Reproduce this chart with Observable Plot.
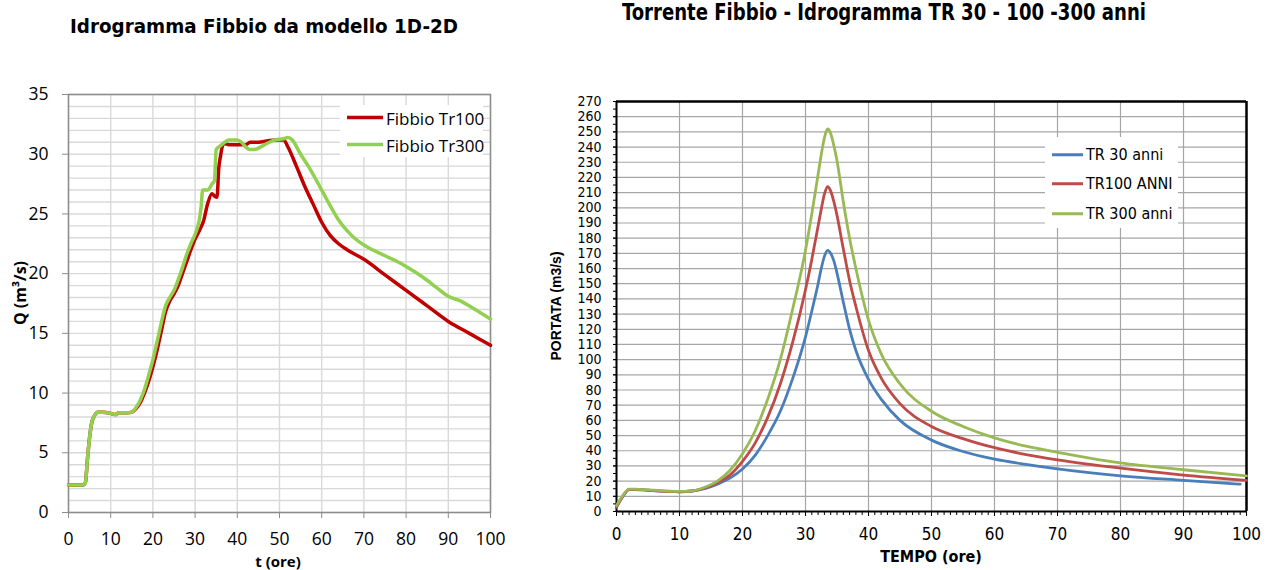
<!DOCTYPE html>
<html><head><meta charset="utf-8">
<script src="https://cdn.jsdelivr.net/npm/d3@7"></script>
<script src="https://cdn.jsdelivr.net/npm/@observablehq/plot@0.6"></script>
<style>
body{margin:0;background:#fff;}
#wrap{position:relative;width:1269px;height:570px;overflow:hidden;background:#fff;}
.abs{position:absolute;white-space:nowrap;}
.title{font-family:'Liberation Sans Narrow','DejaVu Sans Condensed',sans-serif;font-weight:bold;transform-origin:0 0;}
</style></head><body><div id="wrap"></div>
<script>
// ---------- LEFT CHART DATA : Idrogramma Fibbio da modello 1D-2D ----------
const leftXTicks = [0,10,20,30,40,50,60,70,80,90,100];
const leftYTicks = [0,5,10,15,20,25,30,35];
const leftYGrid = d3.range(0, 36, 1);
const leftSeriesNames = ["Fibbio Tr100", "Fibbio Tr300"];
// [t (ore), Q (m3/s)]
const fibbioTr100 = [[0,2.3],[3.5,2.3],[4,2.5],[4.5,4.5],[5,6.3],[5.5,7.5],[6,8.0],[7,8.4],[8,8.4],[10,8.3],[11,8.2],[12,8.35],[14,8.35],[15,8.4],[16,8.7],[17,9.2],[18,10.0],[19,11.0],[20,12.2],[21,13.6],[22,15.2],[23,16.8],[24,17.7],[25,18.3],[26,19.0],[27,20.0],[28,21.0],[29,22.0],[30,22.9],[31,23.6],[32,24.4],[33,25.9],[34,26.7],[34.6,26.5],[35.2,26.4],[35.6,28.8],[36,29.8],[36.6,30.8],[37,30.9],[38,30.8],[40,30.8],[42,30.8],[43,31.0],[45,31.0],[47,31.1],[49,31.2],[51,31.2],[52,30.6],[54,29.0],[56,27.3],[58,25.8],[60,24.3],[62,23.2],[64,22.5],[66,22.0],[70,21.2],[75,19.9],[80,18.6],[85,17.3],[90,16.0],[95,15.0],[100,14.0]];
const fibbioTr300 = [[0,2.3],[3.5,2.3],[4,2.5],[4.5,4.5],[5,6.3],[5.5,7.5],[6,8.0],[7,8.4],[8,8.4],[10,8.3],[11,8.2],[12,8.35],[14,8.35],[15,8.4],[16,8.8],[17,9.4],[18,10.3],[19,11.5],[20,12.8],[21,14.3],[22,15.9],[23,17.3],[24,18.0],[25,18.6],[26,19.5],[27,20.5],[28,21.6],[29,22.5],[30,23.3],[31,24.5],[31.4,25.5],[31.8,27.0],[33,27.0],[34,27.5],[34.6,27.8],[35,30.4],[36,30.7],[37,31.0],[38,31.2],[40,31.2],[41,31.0],[42,30.6],[43,30.4],[44,30.4],[45,30.5],[47,30.9],[49,31.2],[51,31.3],[52,31.4],[53,31.2],[55,30.0],[57,28.9],[60,27.0],[62,25.7],[64,24.5],[66,23.6],[68,22.9],[70,22.4],[75,21.5],[78,21.0],[80,20.6],[84,19.7],[87,18.9],[90,18.1],[93,17.7],[95,17.3],[100,16.2]];

// ---------- RIGHT CHART DATA : Torrente Fibbio - Idrogramma TR 30 - 100 - 300 anni ----------
const rightXTicks = [0,10,20,30,40,50,60,70,80,90,100];
const rightXMinor = d3.range(0, 101, 1);
const rightYTicks = d3.range(0, 271, 10);
const rightYMinor = d3.range(0, 271, 5);
const rightSeriesNames = ["TR 30 anni", "TR100 ANNI", "TR 300 anni"];
const tr30 = [[0,3],[1,10],[2,14.5],[3,14.5],[5,14],[8,13.3],[10,13],[12,13.5],[14,15],[16,18],[18,22],[20,28],[22,37],[24,50],[26,66],[28,88],[30,115],[31,132],[32,150],[32.5,160],[33,168],[33.5,172],[34,170],[34.5,165],[35,157],[36,138],[37,120],[38,106],[40,87],[42,74],[45,60],[50,47],[55,39.5],[60,34.5],[65,31],[70,28],[80,23.5],[90,20.5],[99,18]];
const tr100 = [[0,3],[1,10],[2,14.5],[3,14.5],[5,14],[8,13.3],[10,13],[12,13.5],[14,15.5],[16,19],[18,24],[20,33],[22,45],[24,62],[26,84],[28,112],[30,146],[31,166],[32,188],[32.5,199],[33,209],[33.5,214],[34,211],[34.5,204],[35,195],[36,173],[37,152],[38,135],[40,106],[42,88],[45,71],[50,56],[55,48],[60,42],[65,37.5],[70,34],[80,28.5],[90,24],[100,20.5]];
const tr300 = [[0,4],[1,10.5],[2,14.8],[3,14.8],[5,14.2],[8,13.5],[10,13.2],[12,13.6],[14,16],[16,20],[18,27],[20,38],[22,53],[24,74],[26,100],[28,134],[30,172],[31,196],[32,222],[32.5,235],[33,246],[33.5,252],[34,249],[34.5,241],[35,231],[36,204],[37,180],[38,160],[40,126],[42,104],[45,84],[50,66],[55,56],[60,48.5],[65,43],[70,39],[80,32],[90,27.5],[100,23.5]];

const wrap = document.getElementById("wrap");
function place(el, left, top){ el.style.position="absolute"; el.style.left=left+"px"; el.style.top=top+"px"; wrap.appendChild(el); return el; }
function div(html, css){ const d=document.createElement("div"); d.className="abs"; d.innerHTML=html; d.style.cssText += css; wrap.appendChild(d); return d; }

// ---------- LEFT PLOT ----------
const leftFont = "'Open Sans', sans-serif";
const left = Plot.plot({
  width: 520, height: 570,
  marginLeft: 68, marginRight: 30, marginTop: 94, marginBottom: 58,
  style: {fontFamily: leftFont, fontSize: "17.5px", color: "#000", background: "transparent"},
  x: {domain: [0, 100]},
  y: {domain: [0, 35]},
  marks: [
    Plot.gridY(leftYGrid, {stroke: "#d9d9d9", strokeOpacity: 1, strokeWidth: 1.4}),
    Plot.gridX(leftXTicks, {stroke: "#d9d9d9", strokeOpacity: 1, strokeWidth: 1.4}),
    Plot.frame({stroke: "#8c8c8c", strokeWidth: 1.5}),
    Plot.axisY(leftYTicks, {tickSize: 6, tickPadding: 14, stroke: "#8c8c8c", label: null, fontSize: 17.5}),
    Plot.axisX(leftXTicks, {tickSize: 6, tickPadding: 14, stroke: "#8c8c8c", label: null, fontSize: 17.5}),
    Plot.line(fibbioTr100, {x: d => d[0], y: d => d[1], stroke: "#c00000", strokeWidth: 3.5, curve: "monotone-x"}),
    Plot.line(fibbioTr300, {x: d => d[0], y: d => d[1], stroke: "#92d050", strokeWidth: 3.5, curve: "monotone-x"})
  ]
});
place(left, 0, 0);

// ---------- RIGHT PLOT ----------
const narrow = "'Liberation Sans Narrow','DejaVu Sans Condensed',sans-serif";
const right = Plot.plot({
  width: 739, height: 570,
  marginLeft: 86, marginRight: 23, marginTop: 101, marginBottom: 59,
  style: {fontFamily: narrow, fontSize: "14px", color: "#000", background: "transparent"},
  x: {domain: [0, 100]},
  y: {domain: [0, 270]},
  marks: [
    Plot.gridY(rightYTicks, {stroke: "#a6a6a6", strokeOpacity: 1, strokeWidth: 1.2}),
    Plot.gridX(rightXTicks, {stroke: "#a6a6a6", strokeOpacity: 1, strokeWidth: 1.2}),
    Plot.ruleY([270], {stroke: "#000", strokeWidth: 2.5}),
    Plot.ruleX([100], {stroke: "#000", strokeWidth: 2.5}),
    Plot.axisY(rightYMinor, {tickSize: 3, text: null, stroke: "#000", label: null}),
    Plot.axisY(rightYTicks, {tickSize: 3, tickPadding: 12, stroke: "#000", label: null, fontSize: 14, fontFamily: narrow}),
    Plot.axisX(rightXMinor, {tickSize: 4, text: null, stroke: "#000", label: null}),
    Plot.axisX(rightXTicks, {tickSize: 5, tickPadding: 11, stroke: "#000", label: null, fontSize: 17, fontFamily: narrow}),
    Plot.ruleX([0], {stroke: "#000", strokeWidth: 2}),
    Plot.ruleY([0], {stroke: "#000", strokeWidth: 2}),
    Plot.line(tr30, {x: d => d[0], y: d => d[1], stroke: "#4a7ebb", strokeWidth: 2.8, curve: "monotone-x"}),
    Plot.line(tr100, {x: d => d[0], y: d => d[1], stroke: "#be4b48", strokeWidth: 2.8, curve: "monotone-x"}),
    Plot.line(tr300, {x: d => d[0], y: d => d[1], stroke: "#98b954", strokeWidth: 2.8, curve: "monotone-x"})
  ]
});
place(right, 530, 0);

// ---------- TITLES ----------
function fitTitle(text, x0, x1, capTop, size){
  const d = div(text, `font-size:${size}px;line-height:1;left:${x0}px;top:${capTop - size*0.2}px;`);
  d.classList.add("title");
  const w = d.getBoundingClientRect().width;
  d.style.transform = `scaleX(${(x1 - x0) / w})`;
  return d;
}
fitTitle("Idrogramma Fibbio da modello 1D-2D", 70, 458, 20, 20);
fitTitle("Torrente Fibbio - Idrogramma TR 30 - 100 -300 anni", 622, 1146, 6, 23);

// ---------- AXIS TITLES ----------
div("Q (m³/s)", `font-family:${leftFont};font-weight:bold;font-size:16px;line-height:1;left:20px;top:293px;transform:translate(-50%,-50%) rotate(-90deg);`);
div("t (ore)", `font-family:${leftFont};font-weight:bold;font-size:15px;line-height:1;left:278px;top:561px;transform:translate(-50%,-50%);`);
div("PORTATA (m3/s)", `font-family:'Liberation Sans',Arial,sans-serif;font-weight:bold;font-size:14px;line-height:1;left:556px;top:306px;transform:translate(-50%,-50%) rotate(-90deg);`);
div("TEMPO (ore)", `font-family:${narrow};font-weight:bold;font-size:16px;line-height:1;left:931px;top:557px;transform:translate(-50%,-50%);`);

// ---------- LEGENDS ----------
function legendRow(x, y, color, sw, len, label, font, size){
  const d = div(`<svg width="${len}" height="10" style="vertical-align:middle"><line x1="0" x2="${len}" y1="5" y2="5" stroke="${color}" stroke-width="${sw}"/></svg><span style="margin-left:3px;vertical-align:middle">${label}</span>`,
    `font-family:${font};font-size:${size}px;left:${x}px;top:${y}px;transform:translateY(-50%);line-height:1;`);
  return d;
}
div("", "left:340px;top:105px;width:143px;height:52px;background:#fff;");
legendRow(347, 117, "#c00000", 3.5, 36, leftSeriesNames[0], leftFont, 17);
legendRow(347, 144, "#92d050", 3.5, 36, leftSeriesNames[1], leftFont, 17);

div("", "left:1045px;top:137px;width:133px;height:91px;background:#fff;");
legendRow(1052, 154, "#4a7ebb", 2.8, 31, rightSeriesNames[0], narrow, 16);
legendRow(1052, 183, "#be4b48", 2.8, 31, rightSeriesNames[1], narrow, 16);
legendRow(1052, 213, "#98b954", 2.8, 31, rightSeriesNames[2], narrow, 16);
</script></body></html>
